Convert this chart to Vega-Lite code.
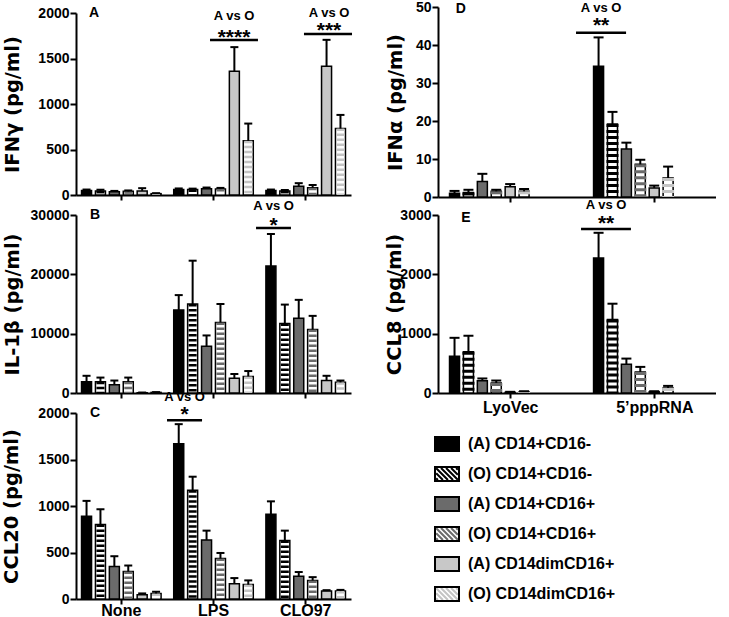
{
  "$schema": "https://vega.github.io/schema/vega-lite/v6.json",
  "background": "white",
  "padding": {"left": 0, "top": 0, "right": 0, "bottom": 0},
  "config": {
    "view": {"stroke": null},
    "font": "Liberation Sans",
    "axis": {
      "domainColor": "#000", "domainWidth": 2, "tickColor": "#000", "tickWidth": 2, "tickSize": 6,
      "labelFont": "Liberation Sans", "labelFontWeight": "bold", "labelColor": "#000", "labelFontSize": 14, "labelPadding": 1,
      "titleFont": "DejaVu Sans", "titleFontWeight": "bold", "titleFontSize": 19.5, "titleColor": "#000", "titleBaseline": "middle",
      "grid": false, "zindex": 1, "labelOverlap": false
    },
    "axisX": {"labelFontSize": 16, "labelAngle": 0, "tickSize": 5, "labelPadding": -2}
  },
  "datasets": {
    "cyto": [
      {"cytokine":"IFNγ","stim":"None","group":"(A) CD14+CD16-","mean":50,"upper":60},
      {"cytokine":"IFNγ","stim":"None","group":"(O) CD14+CD16-","mean":45,"upper":58},
      {"cytokine":"IFNγ","stim":"None","group":"(A) CD14+CD16+","mean":35,"upper":45},
      {"cytokine":"IFNγ","stim":"None","group":"(O) CD14+CD16+","mean":40,"upper":50},
      {"cytokine":"IFNγ","stim":"None","group":"(A) CD14dimCD16+","mean":45,"upper":75},
      {"cytokine":"IFNγ","stim":"None","group":"(O) CD14dimCD16+","mean":15,"upper":20},
      {"cytokine":"IFNγ","stim":"LPS","group":"(A) CD14+CD16-","mean":60,"upper":72},
      {"cytokine":"IFNγ","stim":"LPS","group":"(O) CD14+CD16-","mean":60,"upper":70},
      {"cytokine":"IFNγ","stim":"LPS","group":"(A) CD14+CD16+","mean":70,"upper":82},
      {"cytokine":"IFNγ","stim":"LPS","group":"(O) CD14+CD16+","mean":65,"upper":78},
      {"cytokine":"IFNγ","stim":"LPS","group":"(A) CD14dimCD16+","mean":1360,"upper":1625},
      {"cytokine":"IFNγ","stim":"LPS","group":"(O) CD14dimCD16+","mean":595,"upper":785},
      {"cytokine":"IFNγ","stim":"CLO97","group":"(A) CD14+CD16-","mean":50,"upper":60},
      {"cytokine":"IFNγ","stim":"CLO97","group":"(O) CD14+CD16-","mean":45,"upper":55},
      {"cytokine":"IFNγ","stim":"CLO97","group":"(A) CD14+CD16+","mean":95,"upper":130},
      {"cytokine":"IFNγ","stim":"CLO97","group":"(O) CD14+CD16+","mean":80,"upper":110},
      {"cytokine":"IFNγ","stim":"CLO97","group":"(A) CD14dimCD16+","mean":1415,"upper":1705},
      {"cytokine":"IFNγ","stim":"CLO97","group":"(O) CD14dimCD16+","mean":730,"upper":880},
      {"cytokine":"IL-1β","stim":"None","group":"(A) CD14+CD16-","mean":1900,"upper":2900},
      {"cytokine":"IL-1β","stim":"None","group":"(O) CD14+CD16-","mean":1900,"upper":2600},
      {"cytokine":"IL-1β","stim":"None","group":"(A) CD14+CD16+","mean":1400,"upper":2100},
      {"cytokine":"IL-1β","stim":"None","group":"(O) CD14+CD16+","mean":1900,"upper":2600},
      {"cytokine":"IL-1β","stim":"None","group":"(A) CD14dimCD16+","mean":50,"upper":80},
      {"cytokine":"IL-1β","stim":"None","group":"(O) CD14dimCD16+","mean":100,"upper":150},
      {"cytokine":"IL-1β","stim":"LPS","group":"(A) CD14+CD16-","mean":14000,"upper":16500},
      {"cytokine":"IL-1β","stim":"LPS","group":"(O) CD14+CD16-","mean":15000,"upper":22300},
      {"cytokine":"IL-1β","stim":"LPS","group":"(A) CD14+CD16+","mean":7900,"upper":9700},
      {"cytokine":"IL-1β","stim":"LPS","group":"(O) CD14+CD16+","mean":11900,"upper":15000},
      {"cytokine":"IL-1β","stim":"LPS","group":"(A) CD14dimCD16+","mean":2500,"upper":3200},
      {"cytokine":"IL-1β","stim":"LPS","group":"(O) CD14dimCD16+","mean":2800,"upper":3700},
      {"cytokine":"IL-1β","stim":"CLO97","group":"(A) CD14+CD16-","mean":21400,"upper":26800},
      {"cytokine":"IL-1β","stim":"CLO97","group":"(O) CD14+CD16-","mean":11700,"upper":14900},
      {"cytokine":"IL-1β","stim":"CLO97","group":"(A) CD14+CD16+","mean":12600,"upper":15700},
      {"cytokine":"IL-1β","stim":"CLO97","group":"(O) CD14+CD16+","mean":10700,"upper":13000},
      {"cytokine":"IL-1β","stim":"CLO97","group":"(A) CD14dimCD16+","mean":2100,"upper":2900},
      {"cytokine":"IL-1β","stim":"CLO97","group":"(O) CD14dimCD16+","mean":1800,"upper":2100},
      {"cytokine":"CCL20","stim":"None","group":"(A) CD14+CD16-","mean":890,"upper":1055},
      {"cytokine":"CCL20","stim":"None","group":"(O) CD14+CD16-","mean":800,"upper":965},
      {"cytokine":"CCL20","stim":"None","group":"(A) CD14+CD16+","mean":350,"upper":460},
      {"cytokine":"CCL20","stim":"None","group":"(O) CD14+CD16+","mean":295,"upper":360},
      {"cytokine":"CCL20","stim":"None","group":"(A) CD14dimCD16+","mean":45,"upper":60},
      {"cytokine":"CCL20","stim":"None","group":"(O) CD14dimCD16+","mean":60,"upper":78},
      {"cytokine":"CCL20","stim":"LPS","group":"(A) CD14+CD16-","mean":1670,"upper":1880},
      {"cytokine":"CCL20","stim":"LPS","group":"(O) CD14+CD16-","mean":1170,"upper":1315},
      {"cytokine":"CCL20","stim":"LPS","group":"(A) CD14+CD16+","mean":635,"upper":735},
      {"cytokine":"CCL20","stim":"LPS","group":"(O) CD14+CD16+","mean":435,"upper":495},
      {"cytokine":"CCL20","stim":"LPS","group":"(A) CD14dimCD16+","mean":165,"upper":225},
      {"cytokine":"CCL20","stim":"LPS","group":"(O) CD14dimCD16+","mean":155,"upper":200},
      {"cytokine":"CCL20","stim":"CLO97","group":"(A) CD14+CD16-","mean":910,"upper":1050},
      {"cytokine":"CCL20","stim":"CLO97","group":"(O) CD14+CD16-","mean":630,"upper":735},
      {"cytokine":"CCL20","stim":"CLO97","group":"(A) CD14+CD16+","mean":245,"upper":290},
      {"cytokine":"CCL20","stim":"CLO97","group":"(O) CD14+CD16+","mean":200,"upper":235},
      {"cytokine":"CCL20","stim":"CLO97","group":"(A) CD14dimCD16+","mean":85,"upper":95},
      {"cytokine":"CCL20","stim":"CLO97","group":"(O) CD14dimCD16+","mean":85,"upper":98},
      {"cytokine":"IFNα","stim":"LyoVec","group":"(A) CD14+CD16-","mean":1.0,"upper":1.6},
      {"cytokine":"IFNα","stim":"LyoVec","group":"(O) CD14+CD16-","mean":1.2,"upper":1.9},
      {"cytokine":"IFNα","stim":"LyoVec","group":"(A) CD14+CD16+","mean":4.1,"upper":6.1},
      {"cytokine":"IFNα","stim":"LyoVec","group":"(O) CD14+CD16+","mean":1.5,"upper":1.9},
      {"cytokine":"IFNα","stim":"LyoVec","group":"(A) CD14dimCD16+","mean":2.7,"upper":3.4},
      {"cytokine":"IFNα","stim":"LyoVec","group":"(O) CD14dimCD16+","mean":1.5,"upper":2.1},
      {"cytokine":"IFNα","stim":"5’pppRNA","group":"(A) CD14+CD16-","mean":34.4,"upper":42.0},
      {"cytokine":"IFNα","stim":"5’pppRNA","group":"(O) CD14+CD16-","mean":19.2,"upper":22.4},
      {"cytokine":"IFNα","stim":"5’pppRNA","group":"(A) CD14+CD16+","mean":12.6,"upper":14.3},
      {"cytokine":"IFNα","stim":"5’pppRNA","group":"(O) CD14+CD16+","mean":8.6,"upper":9.8},
      {"cytokine":"IFNα","stim":"5’pppRNA","group":"(A) CD14dimCD16+","mean":2.4,"upper":3.0},
      {"cytokine":"IFNα","stim":"5’pppRNA","group":"(O) CD14dimCD16+","mean":5.0,"upper":8.0},
      {"cytokine":"CCL8","stim":"LyoVec","group":"(A) CD14+CD16-","mean":620,"upper":930},
      {"cytokine":"CCL8","stim":"LyoVec","group":"(O) CD14+CD16-","mean":695,"upper":965},
      {"cytokine":"CCL8","stim":"LyoVec","group":"(A) CD14+CD16+","mean":205,"upper":245},
      {"cytokine":"CCL8","stim":"LyoVec","group":"(O) CD14+CD16+","mean":170,"upper":210},
      {"cytokine":"CCL8","stim":"LyoVec","group":"(A) CD14dimCD16+","mean":10,"upper":20},
      {"cytokine":"CCL8","stim":"LyoVec","group":"(O) CD14dimCD16+","mean":20,"upper":30},
      {"cytokine":"CCL8","stim":"5’pppRNA","group":"(A) CD14+CD16-","mean":2275,"upper":2700},
      {"cytokine":"CCL8","stim":"5’pppRNA","group":"(O) CD14+CD16-","mean":1240,"upper":1505},
      {"cytokine":"CCL8","stim":"5’pppRNA","group":"(A) CD14+CD16+","mean":486,"upper":580},
      {"cytokine":"CCL8","stim":"5’pppRNA","group":"(O) CD14+CD16+","mean":356,"upper":440},
      {"cytokine":"CCL8","stim":"5’pppRNA","group":"(A) CD14dimCD16+","mean":20,"upper":30},
      {"cytokine":"CCL8","stim":"5’pppRNA","group":"(O) CD14dimCD16+","mean":85,"upper":120}
    ]
  },
  "hconcat": [
    {
      "vconcat": [
        {
          "width": 275, "height": 188,
          "layer": [
            {
              "data": {"name": "cyto"},
              "transform": [{"filter": {"field": "cytokine", "equal": "IFNγ"}}],
              "encoding": {
                "x": {"field": "stim", "type": "nominal", "scale": {"domain": ["None","LPS","CLO97"], "paddingInner": 0.137, "paddingOuter": 0.06}, "axis": {"title": null, "labels": false}},
                "xOffset": {"field": "group", "type": "nominal", "scale": {"domain": ["(A) CD14+CD16-","(O) CD14+CD16-","(A) CD14+CD16+","(O) CD14+CD16+","(A) CD14dimCD16+","(O) CD14dimCD16+"], "paddingInner": 0.28, "paddingOuter": 0}},
                "y": {"field": "mean", "type": "quantitative", "title": "IFNγ (pg/ml)", "scale": {"domain": [0, 2000], "nice": false, "range": [188, 6]}, "axis": {"values": [0,500,1000,1500,2000], "format": "d", "titleX": -64}}
              },
              "layer": [
                {"mark": {"type": "bar", "stroke": "#000", "strokeWidth": 1.5}, "encoding": {"fill": {"field": "group", "type": "nominal", "scale": {"domain": ["(A) CD14+CD16-","(O) CD14+CD16-","(A) CD14+CD16+","(O) CD14+CD16+","(A) CD14dimCD16+","(O) CD14dimCD16+"], "range": ["#000000","#ffffff","#6b6b6b","#ffffff","#c8c8c8","#ffffff"]}, "legend": null}}},
                {"transform": [{"filter": {"field": "group", "oneOf": ["(O) CD14+CD16-","(O) CD14+CD16+","(O) CD14dimCD16+"]}}], "mark": {"type": "rule", "strokeWidth": 8, "strokeDash": [2.5, 2.5]}, "encoding": {"y2": {"datum": 0}, "stroke": {"field": "group", "type": "nominal", "scale": {"domain": ["(O) CD14+CD16-","(O) CD14+CD16+","(O) CD14dimCD16+"], "range": ["#000000","#6b6b6b","#c4c4c4"]}, "legend": null}}},
                {"mark": {"type": "rule", "strokeWidth": 2, "color": "#000"}, "encoding": {"y2": {"field": "upper"}}},
                {"mark": {"type": "tick", "thickness": 2, "size": 8, "color": "#000", "opacity": 1}, "encoding": {"y": {"field": "upper", "type": "quantitative", "title": "IFNγ (pg/ml)", "axis": {"values": [0,500,1000,1500,2000], "format": "d", "titleX": -64}}}}
              ]
            },
            {
              "data": {"name": "cyto"},
              "transform": [{"filter": {"field": "cytokine", "equal": "IFNγ"}}, {"aggregate": [{"op": "count", "as": "n"}]}],
              "layer": [
                {"mark": {"type": "rule", "strokeWidth": 2.5, "color": "#000"}, "encoding": {"x": {"datum": 1.462, "type": "quantitative", "scale": {"domain": [0, 3]}, "axis": null}, "x2": {"datum": 1.985}, "y": {"datum": 1703, "type": "quantitative", "title": "IFNγ (pg/ml)", "axis": {"values": [0,500,1000,1500,2000], "format": "d", "titleX": -64}}}},
                {"mark": {"type": "rule", "strokeWidth": 2.5, "color": "#000"}, "encoding": {"x": {"datum": 2.487, "type": "quantitative", "axis": null}, "x2": {"datum": 3.011}, "y": {"datum": 1769, "type": "quantitative", "title": "IFNγ (pg/ml)", "axis": {"values": [0,500,1000,1500,2000], "format": "d", "titleX": -64}}}},
                {"mark": {"type": "text", "text": "A vs O", "fontSize": 13, "fontWeight": "bold", "baseline": "middle"}, "encoding": {"x": {"datum": 1.724, "type": "quantitative", "axis": null}, "y": {"datum": 1967, "type": "quantitative", "title": "IFNγ (pg/ml)", "axis": {"values": [0,500,1000,1500,2000], "format": "d", "titleX": -64}}}},
                {"mark": {"type": "text", "text": "****", "fontSize": 21, "fontWeight": "bold", "baseline": "middle", "dy": 5}, "encoding": {"x": {"datum": 1.724, "type": "quantitative", "axis": null}, "y": {"datum": 1780, "type": "quantitative", "title": "IFNγ (pg/ml)", "axis": {"values": [0,500,1000,1500,2000], "format": "d", "titleX": -64}}}},
                {"mark": {"type": "text", "text": "A vs O", "fontSize": 13, "fontWeight": "bold", "baseline": "middle"}, "encoding": {"x": {"datum": 2.76, "type": "quantitative", "axis": null}, "y": {"datum": 2000, "type": "quantitative", "title": "IFNγ (pg/ml)", "axis": {"values": [0,500,1000,1500,2000], "format": "d", "titleX": -64}}}},
                {"mark": {"type": "text", "text": "***", "fontSize": 21, "fontWeight": "bold", "baseline": "middle", "dy": 5}, "encoding": {"x": {"datum": 2.76, "type": "quantitative", "axis": null}, "y": {"datum": 1857, "type": "quantitative", "title": "IFNγ (pg/ml)", "axis": {"values": [0,500,1000,1500,2000], "format": "d", "titleX": -64}}}},
                {"mark": {"type": "text", "text": "A", "fontSize": 14, "fontWeight": "bold", "baseline": "middle"}, "encoding": {"x": {"datum": 0.196, "type": "quantitative", "axis": null}, "y": {"datum": 2000, "type": "quantitative", "title": "IFNγ (pg/ml)", "axis": {"values": [0,500,1000,1500,2000], "format": "d", "titleX": -64}}}}
              ]
            }
          ],
          "resolve": {"scale": {"x": "independent"}}
        },
        {
          "width": 275, "height": 178,
          "layer": [
            {
              "data": {"name": "cyto"},
              "transform": [{"filter": {"field": "cytokine", "equal": "IL-1β"}}],
              "encoding": {
                "x": {"field": "stim", "type": "nominal", "scale": {"domain": ["None","LPS","CLO97"], "paddingInner": 0.137, "paddingOuter": 0.06}, "axis": {"title": null, "labels": false}},
                "xOffset": {"field": "group", "type": "nominal", "scale": {"domain": ["(A) CD14+CD16-","(O) CD14+CD16-","(A) CD14+CD16+","(O) CD14+CD16+","(A) CD14dimCD16+","(O) CD14dimCD16+"], "paddingInner": 0.28, "paddingOuter": 0}},
                "y": {"field": "mean", "type": "quantitative", "title": "IL-1β (pg/ml)", "scale": {"domain": [0, 30000], "nice": false}, "axis": {"values": [0,10000,20000,30000], "format": "d", "titleX": -64}}
              },
              "layer": [
                {"mark": {"type": "bar", "stroke": "#000", "strokeWidth": 1.5}, "encoding": {"fill": {"field": "group", "type": "nominal", "scale": {"domain": ["(A) CD14+CD16-","(O) CD14+CD16-","(A) CD14+CD16+","(O) CD14+CD16+","(A) CD14dimCD16+","(O) CD14dimCD16+"], "range": ["#000000","#ffffff","#6b6b6b","#ffffff","#c8c8c8","#ffffff"]}, "legend": null}}},
                {"transform": [{"filter": {"field": "group", "oneOf": ["(O) CD14+CD16-","(O) CD14+CD16+","(O) CD14dimCD16+"]}}], "mark": {"type": "rule", "strokeWidth": 8, "strokeDash": [2.5, 2.5]}, "encoding": {"y2": {"datum": 0}, "stroke": {"field": "group", "type": "nominal", "scale": {"domain": ["(O) CD14+CD16-","(O) CD14+CD16+","(O) CD14dimCD16+"], "range": ["#000000","#6b6b6b","#c4c4c4"]}, "legend": null}}},
                {"mark": {"type": "rule", "strokeWidth": 2, "color": "#000"}, "encoding": {"y2": {"field": "upper"}}},
                {"mark": {"type": "tick", "thickness": 2, "size": 8, "color": "#000", "opacity": 1}, "encoding": {"y": {"field": "upper", "type": "quantitative", "title": "IL-1β (pg/ml)", "axis": {"values": [0,10000,20000,30000], "format": "d", "titleX": -64}}}}
              ]
            },
            {
              "data": {"name": "cyto"},
              "transform": [{"filter": {"field": "cytokine", "equal": "IL-1β"}}, {"aggregate": [{"op": "count", "as": "n"}]}],
              "layer": [
                {"mark": {"type": "rule", "strokeWidth": 2.5, "color": "#000"}, "encoding": {"x": {"datum": 1.964, "type": "quantitative", "scale": {"domain": [0, 3]}, "axis": null}, "x2": {"datum": 2.345}, "y": {"datum": 27800, "type": "quantitative", "title": "IL-1β (pg/ml)", "axis": {"values": [0,10000,20000,30000], "format": "d", "titleX": -64}}}},
                {"mark": {"type": "text", "text": "A vs O", "fontSize": 13, "fontWeight": "bold", "baseline": "middle"}, "encoding": {"x": {"datum": 2.155, "type": "quantitative", "axis": null}, "y": {"datum": 31450, "type": "quantitative", "title": "IL-1β (pg/ml)", "axis": {"values": [0,10000,20000,30000], "format": "d", "titleX": -64}}}},
                {"mark": {"type": "text", "text": "*", "fontSize": 21, "fontWeight": "bold", "baseline": "middle", "dy": 5}, "encoding": {"x": {"datum": 2.155, "type": "quantitative", "axis": null}, "y": {"datum": 29000, "type": "quantitative", "title": "IL-1β (pg/ml)", "axis": {"values": [0,10000,20000,30000], "format": "d", "titleX": -64}}}},
                {"mark": {"type": "text", "text": "B", "fontSize": 14, "fontWeight": "bold", "baseline": "middle"}, "encoding": {"x": {"datum": 0.207, "type": "quantitative", "axis": null}, "y": {"datum": 30000, "type": "quantitative", "title": "IL-1β (pg/ml)", "axis": {"values": [0,10000,20000,30000], "format": "d", "titleX": -64}}}}
              ]
            }
          ],
          "resolve": {"scale": {"x": "independent"}}
        },
        {
          "width": 275, "height": 186,
          "layer": [
            {
              "data": {"name": "cyto"},
              "transform": [{"filter": {"field": "cytokine", "equal": "CCL20"}}],
              "encoding": {
                "x": {"field": "stim", "type": "nominal", "scale": {"domain": ["None","LPS","CLO97"], "paddingInner": 0.137, "paddingOuter": 0.06}, "axis": {"title": null}},
                "xOffset": {"field": "group", "type": "nominal", "scale": {"domain": ["(A) CD14+CD16-","(O) CD14+CD16-","(A) CD14+CD16+","(O) CD14+CD16+","(A) CD14dimCD16+","(O) CD14dimCD16+"], "paddingInner": 0.28, "paddingOuter": 0}},
                "y": {"field": "mean", "type": "quantitative", "title": "CCL20 (pg/ml)", "scale": {"domain": [0, 2000], "nice": false}, "axis": {"values": [0,500,1000,1500,2000], "format": "d", "titleX": -65}}
              },
              "layer": [
                {"mark": {"type": "bar", "stroke": "#000", "strokeWidth": 1.5}, "encoding": {"fill": {"field": "group", "type": "nominal", "scale": {"domain": ["(A) CD14+CD16-","(O) CD14+CD16-","(A) CD14+CD16+","(O) CD14+CD16+","(A) CD14dimCD16+","(O) CD14dimCD16+"], "range": ["#000000","#ffffff","#6b6b6b","#ffffff","#c8c8c8","#ffffff"]}, "legend": null}}},
                {"transform": [{"filter": {"field": "group", "oneOf": ["(O) CD14+CD16-","(O) CD14+CD16+","(O) CD14dimCD16+"]}}], "mark": {"type": "rule", "strokeWidth": 8, "strokeDash": [2.5, 2.5]}, "encoding": {"y2": {"datum": 0}, "stroke": {"field": "group", "type": "nominal", "scale": {"domain": ["(O) CD14+CD16-","(O) CD14+CD16+","(O) CD14dimCD16+"], "range": ["#000000","#6b6b6b","#c4c4c4"]}, "legend": null}}},
                {"mark": {"type": "rule", "strokeWidth": 2, "color": "#000"}, "encoding": {"y2": {"field": "upper"}}},
                {"mark": {"type": "tick", "thickness": 2, "size": 8, "color": "#000", "opacity": 1}, "encoding": {"y": {"field": "upper", "type": "quantitative", "title": "CCL20 (pg/ml)", "axis": {"values": [0,500,1000,1500,2000], "format": "d", "titleX": -65}}}}
              ]
            },
            {
              "data": {"name": "cyto"},
              "transform": [{"filter": {"field": "cytokine", "equal": "CCL20"}}, {"aggregate": [{"op": "count", "as": "n"}]}],
              "layer": [
                {"mark": {"type": "rule", "strokeWidth": 2.5, "color": "#000"}, "encoding": {"x": {"datum": 0.993, "type": "quantitative", "scale": {"domain": [0, 3]}, "axis": null}, "x2": {"datum": 1.375}, "y": {"datum": 1923, "type": "quantitative", "title": "CCL20 (pg/ml)", "axis": {"values": [0,500,1000,1500,2000], "format": "d", "titleX": -65}}}},
                {"mark": {"type": "text", "text": "A vs O", "fontSize": 13, "fontWeight": "bold", "baseline": "middle"}, "encoding": {"x": {"datum": 1.184, "type": "quantitative", "axis": null}, "y": {"datum": 2168, "type": "quantitative", "title": "CCL20 (pg/ml)", "axis": {"values": [0,500,1000,1500,2000], "format": "d", "titleX": -65}}}},
                {"mark": {"type": "text", "text": "*", "fontSize": 21, "fontWeight": "bold", "baseline": "middle", "dy": 5}, "encoding": {"x": {"datum": 1.184, "type": "quantitative", "axis": null}, "y": {"datum": 2030, "type": "quantitative", "title": "CCL20 (pg/ml)", "axis": {"values": [0,500,1000,1500,2000], "format": "d", "titleX": -65}}}},
                {"mark": {"type": "text", "text": "C", "fontSize": 14, "fontWeight": "bold", "baseline": "middle"}, "encoding": {"x": {"datum": 0.207, "type": "quantitative", "axis": null}, "y": {"datum": 2000, "type": "quantitative", "title": "CCL20 (pg/ml)", "axis": {"values": [0,500,1000,1500,2000], "format": "d", "titleX": -65}}}}
              ]
            }
          ],
          "resolve": {"scale": {"x": "independent"}}
        }
      ],
      "spacing": 20,
      "bounds": "flush"
    },
    {
      "vconcat": [
        {
          "width": 278, "height": 190,
          "layer": [
            {
              "data": {"name": "cyto"},
              "transform": [{"filter": {"field": "cytokine", "equal": "IFNα"}}],
              "encoding": {
                "x": {"field": "stim", "type": "nominal", "scale": {"domain": ["LyoVec","5’pppRNA"], "paddingInner": 0.15, "paddingOuter": 0.04, "align": 1}, "axis": {"title": null, "labels": false}},
                "xOffset": {"field": "group", "type": "nominal", "scale": {"domain": ["(A) CD14+CD16-","(O) CD14+CD16-","(A) CD14+CD16+","(O) CD14+CD16+","(A) CD14dimCD16+","(O) CD14dimCD16+"], "paddingInner": 0.33, "paddingOuter": 0}},
                "y": {"field": "mean", "type": "quantitative", "title": "IFNα (pg/ml)", "scale": {"domain": [0, 50], "nice": false}, "axis": {"values": [0,10,20,30,40,50], "format": "d", "titleX": -43}}
              },
              "layer": [
                {"mark": {"type": "bar", "stroke": "#000", "strokeWidth": 1.5}, "encoding": {"fill": {"field": "group", "type": "nominal", "scale": {"domain": ["(A) CD14+CD16-","(O) CD14+CD16-","(A) CD14+CD16+","(O) CD14+CD16+","(A) CD14dimCD16+","(O) CD14dimCD16+"], "range": ["#000000","#ffffff","#6b6b6b","#ffffff","#c8c8c8","#ffffff"]}, "legend": null}}},
                {"transform": [{"filter": {"field": "group", "oneOf": ["(O) CD14+CD16-","(O) CD14+CD16+","(O) CD14dimCD16+"]}}], "mark": {"type": "rule", "strokeWidth": 12, "strokeDash": [3, 3]}, "encoding": {"y2": {"datum": 0}, "stroke": {"field": "group", "type": "nominal", "scale": {"domain": ["(O) CD14+CD16-","(O) CD14+CD16+","(O) CD14dimCD16+"], "range": ["#000000","#6b6b6b","#c4c4c4"]}, "legend": null}}},
                {"mark": {"type": "rule", "strokeWidth": 2, "color": "#000"}, "encoding": {"y2": {"field": "upper"}}},
                {"mark": {"type": "tick", "thickness": 2, "size": 10, "color": "#000", "opacity": 1}, "encoding": {"y": {"field": "upper", "type": "quantitative", "title": "IFNα (pg/ml)", "axis": {"values": [0,10,20,30,40,50], "format": "d", "titleX": -43}}}}
              ]
            },
            {
              "data": {"name": "cyto"},
              "transform": [{"filter": {"field": "cytokine", "equal": "IFNα"}}, {"aggregate": [{"op": "count", "as": "n"}]}],
              "layer": [
                {"mark": {"type": "rule", "strokeWidth": 2.5, "color": "#000"}, "encoding": {"x": {"datum": 0.993, "type": "quantitative", "scale": {"domain": [0, 2]}, "axis": null}, "x2": {"datum": 1.353}, "y": {"datum": 43.2, "type": "quantitative", "title": "IFNα (pg/ml)", "axis": {"values": [0,10,20,30,40,50], "format": "d", "titleX": -43}}}},
                {"mark": {"type": "text", "text": "A vs O", "fontSize": 13, "fontWeight": "bold", "baseline": "middle"}, "encoding": {"x": {"datum": 1.173, "type": "quantitative", "axis": null}, "y": {"datum": 49.7, "type": "quantitative", "title": "IFNα (pg/ml)", "axis": {"values": [0,10,20,30,40,50], "format": "d", "titleX": -43}}}},
                {"mark": {"type": "text", "text": "**", "fontSize": 21, "fontWeight": "bold", "baseline": "middle", "dy": 5}, "encoding": {"x": {"datum": 1.173, "type": "quantitative", "axis": null}, "y": {"datum": 46.2, "type": "quantitative", "title": "IFNα (pg/ml)", "axis": {"values": [0,10,20,30,40,50], "format": "d", "titleX": -43}}}},
                {"mark": {"type": "text", "text": "D", "fontSize": 14, "fontWeight": "bold", "baseline": "middle"}, "encoding": {"x": {"datum": 0.165, "type": "quantitative", "axis": null}, "y": {"datum": 49.5, "type": "quantitative", "title": "IFNα (pg/ml)", "axis": {"values": [0,10,20,30,40,50], "format": "d", "titleX": -43}}}}
              ]
            }
          ],
          "resolve": {"scale": {"x": "independent"}}
        },
        {
          "width": 278, "height": 178,
          "layer": [
            {
              "data": {"name": "cyto"},
              "transform": [{"filter": {"field": "cytokine", "equal": "CCL8"}}],
              "encoding": {
                "x": {"field": "stim", "type": "nominal", "scale": {"domain": ["LyoVec","5’pppRNA"], "paddingInner": 0.15, "paddingOuter": 0.04, "align": 1}, "axis": {"title": null, "labelPadding": 1}},
                "xOffset": {"field": "group", "type": "nominal", "scale": {"domain": ["(A) CD14+CD16-","(O) CD14+CD16-","(A) CD14+CD16+","(O) CD14+CD16+","(A) CD14dimCD16+","(O) CD14dimCD16+"], "paddingInner": 0.33, "paddingOuter": 0}},
                "y": {"field": "mean", "type": "quantitative", "title": "CCL8 (pg/ml)", "scale": {"domain": [0, 3000], "nice": false}, "axis": {"values": [0,1000,2000,3000], "format": "d", "titleX": -44}}
              },
              "layer": [
                {"mark": {"type": "bar", "stroke": "#000", "strokeWidth": 1.5}, "encoding": {"fill": {"field": "group", "type": "nominal", "scale": {"domain": ["(A) CD14+CD16-","(O) CD14+CD16-","(A) CD14+CD16+","(O) CD14+CD16+","(A) CD14dimCD16+","(O) CD14dimCD16+"], "range": ["#000000","#ffffff","#6b6b6b","#ffffff","#c8c8c8","#ffffff"]}, "legend": null}}},
                {"transform": [{"filter": {"field": "group", "oneOf": ["(O) CD14+CD16-","(O) CD14+CD16+","(O) CD14dimCD16+"]}}], "mark": {"type": "rule", "strokeWidth": 12, "strokeDash": [3, 3]}, "encoding": {"y2": {"datum": 0}, "stroke": {"field": "group", "type": "nominal", "scale": {"domain": ["(O) CD14+CD16-","(O) CD14+CD16+","(O) CD14dimCD16+"], "range": ["#000000","#6b6b6b","#c4c4c4"]}, "legend": null}}},
                {"mark": {"type": "rule", "strokeWidth": 2, "color": "#000"}, "encoding": {"y2": {"field": "upper"}}},
                {"mark": {"type": "tick", "thickness": 2, "size": 10, "color": "#000", "opacity": 1}, "encoding": {"y": {"field": "upper", "type": "quantitative", "title": "CCL8 (pg/ml)", "axis": {"values": [0,1000,2000,3000], "format": "d", "titleX": -44}}}}
              ]
            },
            {
              "data": {"name": "cyto"},
              "transform": [{"filter": {"field": "cytokine", "equal": "CCL8"}}, {"aggregate": [{"op": "count", "as": "n"}]}],
              "layer": [
                {"mark": {"type": "rule", "strokeWidth": 2.5, "color": "#000"}, "encoding": {"x": {"datum": 1.029, "type": "quantitative", "scale": {"domain": [0, 2]}, "axis": null}, "x2": {"datum": 1.388}, "y": {"datum": 2764, "type": "quantitative", "title": "CCL8 (pg/ml)", "axis": {"values": [0,1000,2000,3000], "format": "d", "titleX": -44}}}},
                {"mark": {"type": "text", "text": "A vs O", "fontSize": 13, "fontWeight": "bold", "baseline": "middle"}, "encoding": {"x": {"datum": 1.209, "type": "quantitative", "axis": null}, "y": {"datum": 3175, "type": "quantitative", "title": "CCL8 (pg/ml)", "axis": {"values": [0,1000,2000,3000], "format": "d", "titleX": -44}}}},
                {"mark": {"type": "text", "text": "**", "fontSize": 21, "fontWeight": "bold", "baseline": "middle", "dy": 5}, "encoding": {"x": {"datum": 1.209, "type": "quantitative", "axis": null}, "y": {"datum": 2940, "type": "quantitative", "title": "CCL8 (pg/ml)", "axis": {"values": [0,1000,2000,3000], "format": "d", "titleX": -44}}}},
                {"mark": {"type": "text", "text": "E", "fontSize": 14, "fontWeight": "bold", "baseline": "middle"}, "encoding": {"x": {"datum": 0.2, "type": "quantitative", "axis": null}, "y": {"datum": 2950, "type": "quantitative", "title": "CCL8 (pg/ml)", "axis": {"values": [0,1000,2000,3000], "format": "d", "titleX": -44}}}}
              ]
            }
          ],
          "resolve": {"scale": {"x": "independent"}}
        },
        {
          "width": 278, "height": 200,
          "data": {"name": "cyto"},
          "transform": [{"filter": {"field": "cytokine", "equal": "IFNα"}}, {"filter": {"field": "stim", "equal": "LyoVec"}}],
          "encoding": {
            "y": {"field": "group", "type": "nominal", "scale": {"type": "point", "domain": ["(A) CD14+CD16-","(O) CD14+CD16-","(A) CD14+CD16+","(O) CD14+CD16+","(A) CD14dimCD16+","(O) CD14dimCD16+"], "padding": 0.833, "align": 0.66}, "axis": null},
            "x": {"datum": 0.324, "type": "quantitative", "scale": {"domain": [0, 10]}, "axis": null}
          },
          "layer": [
            {"mark": {"type": "point", "shape": "M-1,-0.583H1V0.583H-1Z", "size": 576, "filled": true, "opacity": 1, "strokeWidth": 0}, "encoding": {"fill": {"field": "group", "type": "nominal", "scale": {"domain": ["(A) CD14+CD16-","(O) CD14+CD16-","(A) CD14+CD16+","(O) CD14+CD16+","(A) CD14dimCD16+","(O) CD14dimCD16+"], "range": ["#000000","#ffffff","#6b6b6b","#ffffff","#c8c8c8","#ffffff"]}, "legend": null}}},
            {"transform": [{"filter": {"field": "group", "oneOf": ["(O) CD14+CD16-","(O) CD14+CD16+","(O) CD14dimCD16+"]}}], "mark": {"type": "point", "shape": "M0.76,-0.5L0.9,-0.36M0.34,-0.5L0.9,0.06M-0.08,-0.5L0.9,0.48M-0.5,-0.5L0.5,0.5M-0.9,-0.48L0.08,0.5M-0.9,-0.06L-0.34,0.5M-0.9,0.36L-0.76,0.5", "size": 576, "filled": false, "opacity": 1, "strokeWidth": 2}, "encoding": {"stroke": {"field": "group", "type": "nominal", "scale": {"domain": ["(O) CD14+CD16-","(O) CD14+CD16+","(O) CD14dimCD16+"], "range": ["#000000","#6b6b6b","#c4c4c4"]}, "legend": null}}},
            {"mark": {"type": "point", "shape": "M-1,-0.583H1V0.583H-1Z", "size": 576, "filled": false, "opacity": 1, "stroke": "#000", "strokeWidth": 2}},
            {"mark": {"type": "text", "align": "left", "baseline": "middle", "fontSize": 16, "fontWeight": "bold"}, "encoding": {"x": {"datum": 1.08, "type": "quantitative"}, "text": {"field": "group"}}}
          ]
        }
      ],
      "spacing": 18,
      "bounds": "flush"
    }
  ],
  "spacing": 30
}
